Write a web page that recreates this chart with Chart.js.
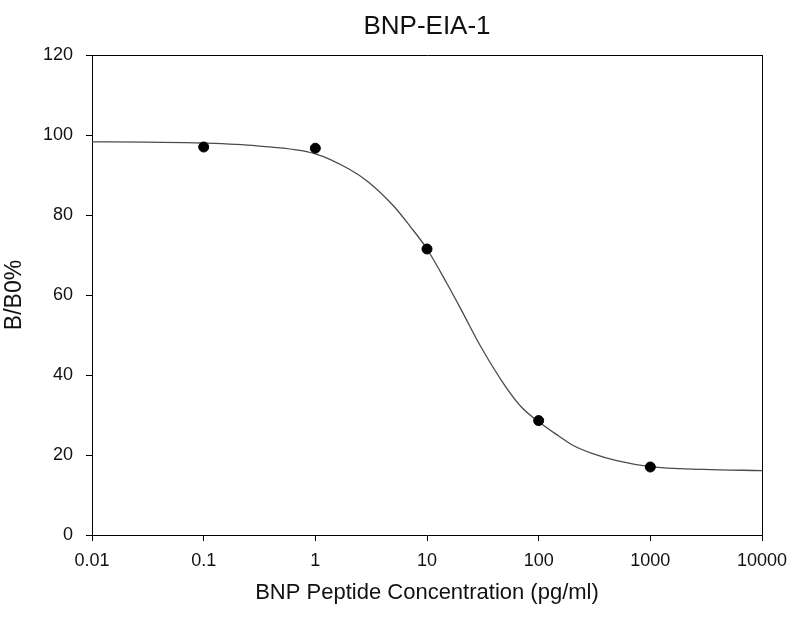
<!doctype html>
<html lang="en">
  <head>
    <meta charset="utf-8">
    <script src="https://cdn.jsdelivr.net/npm/chart.js@4.4.0/dist/chart.umd.min.js"></script>
    <title>BNP-EIA-1</title>
    <style>
      html, body { margin: 0; padding: 0; background: #fff; }
      #wrap { width: 811px; height: 619px; }
    </style>
  </head>
  <body>
    <div id="wrap">
      <canvas id="bnpChart"></canvas>
    </div>

<script>
// measured standards
var concX = [0.1, 1, 10, 100, 1000];
var bb0Y = [97.0, 96.7, 71.5, 28.6, 17.0];

// fitted curve
var curveX = [0.01, 0.03, 0.1, 0.3, 1, 2, 3, 5, 7, 10, 15, 20, 30, 50, 70, 100, 150, 200, 300, 500, 1000, 3000, 10000];
var curveY = [98.3, 98.2, 98.0, 97.3, 95.3, 91.5, 88.2, 82.3, 77.3, 71.5, 63.0, 56.6, 47.3, 37.3, 32.0, 28.3, 24.8, 22.5, 20.4, 18.6, 17.1, 16.4, 16.1];

var xTicks = [0.01, 0.1, 1, 10, 100, 1000, 10000];
var yTicks = [0, 20, 40, 60, 80, 100, 120];

var FONT = "'Liberation Sans', Arial, sans-serif";

var ctx = document.getElementById('bnpChart').getContext('2d');
var bnpChart = new Chart(ctx, {
  type: 'scatter',
  data: {
    datasets: [
      {
        label: 'fit',
        data: curveX.map(function (x, i) { return { x: x, y: curveY[i] }; }),
        showLine: true,
        borderColor: '#4a4a4a',
        borderWidth: 1.3,
        pointRadius: 0,
        cubicInterpolationMode: 'monotone',
        order: 2
      },
      {
        label: 'B/B0%',
        data: concX.map(function (x, i) { return { x: x, y: bb0Y[i] }; }),
        showLine: false,
        backgroundColor: '#000',
        borderColor: '#000',
        pointRadius: 5,
        order: 1
      }
    ]
  },
  options: {
    responsive: true,
    maintainAspectRatio: false,
    animation: false,
    layout: { padding: { left: 0, right: 49, top: 0, bottom: 0 } },
    plugins: {
      legend: { display: false },
      tooltip: { enabled: false }
    },
    scales: {
      x: {
        type: 'logarithmic',
        min: 0.01,
        max: 10000,
        afterBuildTicks: function (scale) {
          scale.ticks = xTicks.map(function (v) { return { value: v }; });
        },
        afterFit: function (scale) { scale.height = 84; },
        grid: { drawOnChartArea: false, tickLength: 6, color: '#000' },
        border: { color: '#000', width: 1 },
        ticks: {
          color: '#111',
          padding: 9,
          maxRotation: 0,
          autoSkip: false,
          font: { family: FONT, size: 18 },
          callback: function (v) { return String(v); }
        },
        title: {
          display: true,
          text: 'BNP Peptide Concentration (pg/ml)',
          color: '#111',
          font: { family: FONT, size: 22 },
          padding: { top: 0, bottom: 13 }
        }
      },
      // top frame line, carries the chart title centred over the plot
      xTop: {
        type: 'linear',
        position: 'top',
        afterFit: function (scale) { scale.height = 55; },
        grid: { drawOnChartArea: false, drawTicks: false },
        border: { color: '#000', width: 1 },
        ticks: { display: false },
        title: {
          display: true,
          text: 'BNP-EIA-1',
          color: '#111',
          font: { family: FONT, size: 26 },
          padding: { top: 11, bottom: 0 }
        }
      },
      y: {
        min: 0,
        max: 120,
        afterBuildTicks: function (scale) {
          scale.ticks = yTicks.map(function (v) { return { value: v }; });
        },
        afterFit: function (scale) { scale.width = 92; },
        grid: { drawOnChartArea: false, tickLength: 6, color: '#000' },
        border: { color: '#000', width: 1 },
        ticks: {
          color: '#111',
          padding: 13,
          font: { family: FONT, size: 18 }
        },
        title: {
          display: true,
          text: 'B/B0%',
          color: '#111',
          font: { family: FONT, size: 23 },
          padding: { top: 1, bottom: 0 }
        }
      },
      // right frame line
      yRight: {
        type: 'linear',
        position: 'right',
        afterFit: function (scale) { scale.width = 0; },
        grid: { drawOnChartArea: false, drawTicks: false },
        border: { color: '#000', width: 1 },
        ticks: { display: false }
      }
    }
  }
});
</script>
  </body>
</html>
